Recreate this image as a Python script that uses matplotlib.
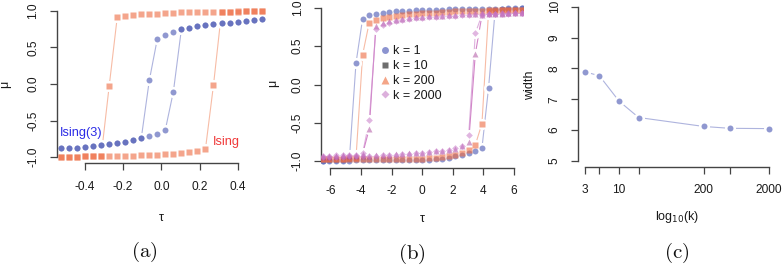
import matplotlib
matplotlib.use('Agg')
import matplotlib.pyplot as plt
from matplotlib.lines import Line2D

plt.rcParams['font.family'] = ['Liberation Sans', 'DejaVu Sans']

# ---------------- data: panel (a) ----------------
tau_a = [-0.525, -0.483, -0.441, -0.399, -0.357, -0.315, -0.273, -0.231, -0.189,
         -0.147, -0.105, -0.063, -0.021, 0.021, 0.063, 0.105, 0.147, 0.189, 0.231,
         0.273, 0.315, 0.357, 0.399, 0.441, 0.483, 0.525]
ising_up = [-0.995, -0.995, -0.995, -0.99, -0.99, -0.99, -0.985, -0.985, -0.98,
            -0.98, -0.975, -0.975, -0.97, -0.965, -0.96, -0.95, -0.935, -0.915,
            -0.89, -0.015, 0.985, 0.99, 0.99, 0.995, 0.995, 0.995]
ising_down = [-0.995, -0.995, -0.995, -0.99, -0.99, -0.985, -0.025, 0.915, 0.935,
              0.945, 0.955, 0.96, 0.965, 0.97, 0.975, 0.98, 0.985, 0.985, 0.99,
              0.99, 0.99, 0.99, 0.995, 0.995, 0.995, 0.995]
ising3_up = [-0.88, -0.875, -0.87, -0.86, -0.845, -0.83, -0.82, -0.81, -0.79,
             -0.77, -0.74, -0.71, -0.685, -0.625, -0.105, 0.75, 0.765, 0.79,
             0.805, 0.82, 0.83, 0.84, 0.855, 0.865, 0.875, 0.885]
ising3_down = [-0.88, -0.875, -0.87, -0.86, -0.845, -0.83, -0.82, -0.81, -0.79,
               -0.77, -0.74, 0.05, 0.62, 0.665, 0.71, 0.75, 0.765, 0.79,
               0.805, 0.82, 0.83, 0.84, 0.855, 0.865, 0.875, 0.885]

# ---------------- data: panel (b) ----------------
tau_b = [-6.5, -6.067, -5.633, -5.2, -4.767, -4.333, -3.9, -3.467, -3.033, -2.6,
         -2.167, -1.733, -1.3, -0.867, -0.433, 0.0, 0.433, 0.867, 1.3, 1.733,
         2.167, 2.6, 3.033, 3.467, 3.9, 4.333, 4.767, 5.2, 5.633, 6.067, 6.5]
k1_up = [-0.995, -0.995, -0.995, -0.995, -0.995, -0.99, -0.99, -0.99, -0.99, -0.99,
         -0.99, -0.99, -0.99, -0.99, -0.99, -0.985, -0.985, -0.98, -0.97, -0.955,
         -0.94, -0.92, -0.9, -0.875, -0.83, -0.04, 0.98, 0.985, 0.99, 0.99, 0.995]
k1_down = [-0.995, -0.99, -0.99, -0.985, -0.98, 0.28, 0.86, 0.905, 0.925, 0.935,
           0.945, 0.955, 0.96, 0.965, 0.97, 0.975, 0.975, 0.98, 0.98, 0.985,
           0.985, 0.985, 0.99, 0.99, 0.99, 0.99, 0.99, 0.99, 0.995, 0.995, 0.995]
k10_up = [-0.975, -0.975, -0.975, -0.975, -0.975, -0.975, -0.975, -0.975, -0.975, -0.975,
          -0.975, -0.975, -0.975, -0.97, -0.97, -0.97, -0.965, -0.96, -0.95, -0.94,
          -0.92, -0.89, -0.86, -0.79, -0.51, 0.96, 0.965, 0.97, 0.97, 0.975, 0.975]
k10_down = [-0.975, -0.975, -0.97, -0.97, -0.965, -0.96, 0.39, 0.81, 0.845, 0.87,
            0.885, 0.9, 0.91, 0.92, 0.925, 0.93, 0.935, 0.94, 0.945, 0.95,
            0.955, 0.96, 0.96, 0.965, 0.965, 0.97, 0.97, 0.97, 0.975, 0.975, 0.975]
k200_up = [-0.945, -0.945, -0.94, -0.94, -0.935, -0.935, -0.93, -0.93, -0.925, -0.92,
           -0.915, -0.91, -0.905, -0.9, -0.895, -0.89, -0.885, -0.875, -0.865, -0.855,
           -0.84, -0.81, -0.75, 0.4, 0.905, 0.915, 0.92, 0.925, 0.93, 0.93, 0.935]
k200_down = [-0.935, -0.93, -0.93, -0.925, -0.92, -0.915, -0.905, -0.58, 0.77, 0.8,
             0.825, 0.845, 0.86, 0.87, 0.88, 0.885, 0.89, 0.895, 0.9, 0.905,
             0.91, 0.915, 0.92, 0.925, 0.93, 0.93, 0.935, 0.94, 0.94, 0.945, 0.945]
k2000_up = [-0.95, -0.95, -0.945, -0.945, -0.94, -0.94, -0.935, -0.93, -0.93, -0.925,
            -0.92, -0.915, -0.91, -0.905, -0.9, -0.895, -0.885, -0.875, -0.865, -0.85,
            -0.83, -0.8, -0.66, 0.67, 0.91, 0.915, 0.92, 0.925, 0.925, 0.93, 0.93]
k2000_down = [-0.93, -0.93, -0.925, -0.925, -0.92, -0.915, -0.9, -0.47, 0.72, 0.78,
              0.81, 0.83, 0.845, 0.855, 0.865, 0.875, 0.88, 0.885, 0.89, 0.895,
              0.9, 0.905, 0.91, 0.915, 0.92, 0.925, 0.925, 0.93, 0.93, 0.93, 0.93]
legend_labels = ['k = 1', 'k = 10', 'k = 200', 'k = 2000']

# ---------------- data: panel (c) ----------------
k_c = [3, 5, 10, 20, 200, 500, 2000]
width_c = [7.89, 7.76, 6.94, 6.41, 6.12, 6.06, 6.05]
k_tick_labels = ['3', '', '10', '', '200', '', '2000']

# ---------------- styling ----------------
W, H = 782, 266
BLUE = '#525EB6'
SALMON = '#EE6A40'
MAGENTA = '#A8449A'
PINK = '#C87AC8'
AX_COL = '#444444'
TXT_COL = '#1A1A1A'
TICK_FS = 8.6

fig = plt.figure(figsize=(W / 100, H / 100), dpi=100)


def axes_px(left, top, right, bottom):
    return fig.add_axes([left / W, 1 - bottom / H, (right - left) / W, (bottom - top) / H])


def series(ax, x, y, color, marker, ms, alpha=0.64, line_color=None):
    lc = line_color if line_color else color
    ax.plot(x, y, color=lc, lw=0.8, alpha=0.7, zorder=1)
    ax.plot(x, y, ls='none', marker='o', ms=8, color='white', mec='none', zorder=2)
    ax.plot(x, y, ls='none', marker=marker, ms=ms, color=color, alpha=alpha,
            mec='none', zorder=3)


def style(ax, xb, yb):
    for s in ['top', 'right']:
        ax.spines[s].set_visible(False)
    for s in ['left', 'bottom']:
        ax.spines[s].set_color(AX_COL)
        ax.spines[s].set_linewidth(1.0)
    ax.spines['bottom'].set_bounds(*xb)
    ax.spines['left'].set_bounds(*yb)
    ax.tick_params(direction='out', length=5, width=0.9, color=AX_COL,
                   labelsize=TICK_FS, labelcolor=TXT_COL, pad=7.5)


def ftext(x, y, s, **kw):
    fig.text(x / W, 1 - y / H, s, ha='center', va='center', color=TXT_COL, **kw)


# ---------------- panel (a) ----------------
axA = axes_px(56.7, 4.7, 266, 163.3)
series(axA, tau_a, ising_up, SALMON, 's', 3.8, alpha=0.6, line_color='#F4A080')
series(axA, tau_a, ising_down, SALMON, 's', 3.8, alpha=0.6, line_color='#F4A080')
series(axA, tau_a, ising3_up, BLUE, 'o', 4.3, line_color='#8C94D0')
series(axA, tau_a, ising3_down, BLUE, 'o', 4.3, line_color='#8C94D0')
axA.set_xlim(-0.548, 0.548)
axA.set_ylim(-1.086, 1.086)
axA.set_xticks([-0.4, -0.2, 0.0, 0.2, 0.4])
axA.set_xticklabels(['-0.4', '-0.2', '0.0', '0.2', '0.4'])
axA.set_yticks([-1.0, -0.5, 0.0, 0.5, 1.0])
axA.set_yticklabels(['-1.0', '-0.5', '0.0', '0.5', '1.0'], rotation=90, va='center')
style(axA, (-0.4, 0.4), (-1.0, 1.0))
axA.text(-0.422, -0.667, 'Ising(3)', color='#2B2BE6', fontsize=9.2, ha='center', va='center')
axA.text(0.342, -0.79, 'Ising', color='#F03A3A', fontsize=9.2, ha='center', va='center')

# ---------------- panel (b) ----------------
axB = axes_px(321, 1.4, 522.5, 167.6)
series(axB, tau_b, k1_up, BLUE, 'o', 4.3, line_color='#8C94D0')
series(axB, tau_b, k1_down, BLUE, 'o', 4.3, line_color='#8C94D0')
series(axB, tau_b, k10_up, SALMON, 's', 3.8, alpha=0.6, line_color='#F4A080')
series(axB, tau_b, k10_down, SALMON, 's', 3.8, alpha=0.6, line_color='#F4A080')
series(axB, tau_b, k200_up, MAGENTA, '^', 4.6, alpha=0.5, line_color='#C050B0')
series(axB, tau_b, k200_down, MAGENTA, '^', 4.6, alpha=0.5, line_color='#C050B0')
series(axB, tau_b, k2000_up, PINK, 'D', 3.4, alpha=0.55, line_color='#D090D0')
series(axB, tau_b, k2000_down, PINK, 'D', 3.4, alpha=0.55, line_color='#D090D0')
axB.set_xlim(-6.62, 6.55)
axB.set_ylim(-1.086, 1.086)
axB.set_xticks([-6, -4, -2, 0, 2, 4, 6])
axB.set_xticklabels(['-6', '-4', '-2', '0', '2', '4', '6'])
axB.set_yticks([-1.0, -0.5, 0.0, 0.5, 1.0])
axB.set_yticklabels(['-1.0', '-0.5', '0.0', '0.5', '1.0'], rotation=90, va='center')
style(axB, (-6, 6), (-1.0, 1.0))
handles = [
    Line2D([], [], ls='none', marker='o', ms=5, color='#8C94D0', mec='none'),
    Line2D([], [], ls='none', marker='s', ms=4.5, color='#6E6E6E', mec='none'),
    Line2D([], [], ls='none', marker='^', ms=5.2, color='#F4A587', mec='none'),
    Line2D([], [], ls='none', marker='D', ms=3.8, color='#DCB0DC', mec='none'),
]
axB.legend(handles, legend_labels, loc='upper left', bbox_to_anchor=(0.291, 0.735),
           frameon=False, fontsize=9, handlelength=0.8, handletextpad=0.3,
           borderpad=0, borderaxespad=0, labelspacing=0.22, labelcolor=TXT_COL)

# ---------------- panel (c) ----------------
axC = axes_px(578, 0.5, 774, 166.9)
axC.set_xscale('log')
series(axC, k_c, width_c, BLUE, 'o', 4.3, line_color='#8C94D0')
axC.set_xlim(2.342, 2399)
axC.set_ylim(4.81, 10.2)
axC.minorticks_off()
axC.set_xticks(k_c)
axC.set_xticklabels(k_tick_labels)
axC.set_yticks([5, 6, 7, 8, 9, 10])
axC.set_yticklabels(['5', '6', '7', '8', '9', '10'], rotation=90, va='center')
style(axC, (3, 2000), (5, 10))

# ---------------- axis labels & panel tags ----------------
ftext(5, 84, 'μ', fontsize=9, rotation=90)
ftext(161.7, 218, 'τ', fontsize=9)
ftext(273.3, 83, 'μ', fontsize=9, rotation=90)
ftext(422.3, 219, 'τ', fontsize=9)
ftext(530, 85, 'width', fontsize=9, rotation=90)
ftext(676.7, 216.7, r'log$_{10}$(k)', fontsize=9, math_fontfamily='custom')
for x, y, s in [(144, 252, '(a)'), (411.7, 254, '(b)'), (676.7, 253, '(c)')]:
    fig.text(x / W, 1 - y / H, r'$\mathrm{' + s + '}$', ha='center', va='center',
             fontsize=15, math_fontfamily='cm', color='#111111')

fig.savefig('out.png', dpi=100)
